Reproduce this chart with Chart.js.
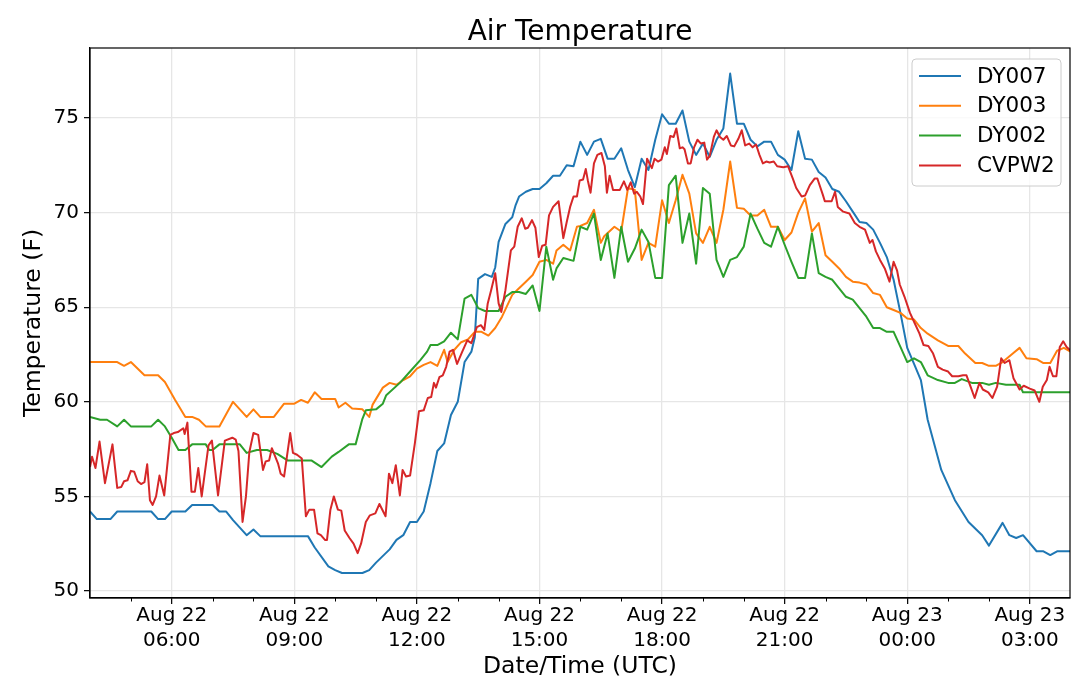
<!DOCTYPE html>
<html>
<head>
<meta charset="utf-8">
<title>Air Temperature</title>
<script src="https://cdn.jsdelivr.net/npm/chart.js@4.4.1/dist/chart.umd.min.js"></script>
<style>
  html, body { margin: 0; padding: 0; background: #fff; }
  #wrap { width: 1079px; height: 693px; position: relative; }
</style>
</head>
<body>
<div id="wrap"><canvas id="chart"></canvas></div>
<script>
// --- DATA ---
// times are minutes after Aug 22 00:00 UTC, temperatures in F

const dy007Times = [240,250,270,280,330,340,350,360,380,390,420,430,440,450,470,480,490,560,570,590,
  600,610,640,650,660,680,690,700,710,720,730,740,750,760,770,780,790,800,805,810,
  820,830,835,840,850,860,865,870,880,890,900,910,920,930,940,950,960,970,980,990,
  1000,1010,1020,1030,1040,1050,1060,1070,1080,1090,1100,1110,1120,1130,1140,1150,1160,1170,1180,1190,
  1200,1210,1220,1230,1240,1250,1260,1270,1280,1290,1300,1310,1320,1330,1340,1350,1360,1370,1380,1390,
  1400,1410,1420,1430,1440,1450,1460,1470,1490,1510,1530,1550,1560,1580,1590,1600,1610,1630,1640,1650,
  1660,1680];
const dy007Temps = [54.2,53.8,53.8,54.2,54.2,53.8,53.8,54.2,54.2,54.55,54.55,54.2,54.2,53.75,52.95,53.25,52.9,52.9,52.3,51.3,
  51.1,50.95,50.95,51.1,51.5,52.2,52.7,52.95,53.65,53.65,54.2,55.7,57.4,57.8,59.3,60.0,62.1,62.65,63.4,66.5,
  66.75,66.6,67.1,68.45,69.4,69.75,70.4,70.85,71.1,71.25,71.25,71.55,71.95,71.95,72.5,72.45,73.75,73.05,73.75,73.9,
  72.85,72.85,73.4,72.25,71.35,72.85,72.25,73.85,75.2,74.7,74.7,75.4,73.75,73.05,73.65,72.95,73.85,74.45,77.35,74.7,
  74.7,73.85,73.5,73.75,73.75,73.05,72.8,72.25,74.3,72.85,72.8,72.15,71.85,71.25,71.1,70.6,70.05,69.5,69.45,69.1,
  68.4,67.65,66.45,64.7,62.85,62.0,61.15,59.05,56.4,54.8,53.65,52.95,52.4,53.6,52.95,52.8,52.95,52.1,52.1,51.9,
  52.1,52.1];

const dy003Times = [240,280,290,300,320,340,350,365,380,390,400,410,430,450,460,470,480,490,510,525,
  540,550,560,570,580,600,605,615,625,640,650,655,670,680,690,700,710,720,730,740,
  750,760,765,775,785,795,805,815,825,835,845,860,870,880,890,900,910,920,925,935,
  945,955,960,970,980,990,995,1010,1020,1030,1040,1050,1060,1070,1080,1090,1100,1110,1120,1130,
  1140,1150,1160,1170,1180,1190,1200,1210,1220,1230,1240,1250,1260,1270,1280,1290,1300,1310,1320,1330,
  1340,1350,1360,1370,1380,1390,1400,1410,1420,1430,1440,1450,1460,1470,1485,1500,1515,1525,1540,1550,
  1560,1570,1580,1595,1605,1615,1630,1640,1650,1660,1670,1680];
const dy003Temps = [62.1,62.1,61.9,62.1,61.4,61.4,61.05,60.1,59.2,59.2,59.05,58.7,58.7,60.0,59.6,59.2,59.6,59.2,59.2,59.9,
  59.9,60.1,59.95,60.5,60.15,60.15,59.7,59.95,59.65,59.6,59.2,59.85,60.75,61.0,60.9,61.15,61.35,61.75,61.95,62.1,
  61.9,62.75,62.1,62.75,63.15,63.3,63.7,63.7,63.5,63.9,64.5,65.65,66.0,66.35,66.7,67.4,67.5,67.3,68.0,68.3,
  68.0,69.25,69.3,69.45,70.15,68.4,68.75,69.25,69.0,71.3,71.2,67.5,68.4,68.2,70.65,69.45,70.65,72.0,71.0,68.9,
  68.4,69.25,68.4,70.15,72.7,70.25,70.2,69.85,69.85,70.15,69.25,69.25,68.55,68.95,70.0,70.75,69.0,69.45,67.75,67.4,
  67.05,66.6,66.35,66.3,66.2,65.75,65.65,65.0,64.85,64.7,64.4,64.35,63.9,63.6,63.25,62.95,62.95,62.55,62.05,62.05,
  61.9,61.9,62.1,62.55,62.85,62.3,62.25,62.05,62.05,62.7,62.85,62.65];

const dy002Times = [240,255,265,280,290,300,330,340,350,360,370,380,390,410,415,420,430,460,470,485,
  500,515,530,565,580,595,605,620,630,640,645,660,670,675,695,710,725,735,740,750,
  760,770,780,790,800,810,820,840,850,860,870,880,890,900,910,920,925,935,950,960,
  970,980,990,1000,1010,1020,1030,1040,1050,1060,1070,1080,1090,1100,1110,1120,1130,1140,1150,1160,
  1170,1180,1190,1200,1210,1220,1230,1240,1250,1260,1270,1280,1290,1300,1310,1320,1330,1340,1350,1360,
  1370,1380,1390,1400,1410,1420,1430,1440,1450,1460,1470,1485,1500,1510,1520,1535,1550,1560,1570,1585,
  1605,1610,1680];
const dy002Temps = [59.2,59.05,59.05,58.7,59.05,58.7,58.7,59.05,58.7,58.1,57.45,57.45,57.75,57.75,57.45,57.45,57.75,57.75,57.3,57.45,
  57.45,57.25,56.9,56.9,56.55,57.1,57.35,57.75,57.75,59.1,59.55,59.6,59.9,60.35,61.0,61.6,62.2,62.65,63.0,63.0,
  63.2,63.65,63.3,65.45,65.65,64.95,64.8,64.8,65.55,65.8,65.8,65.7,66.15,64.8,68.2,66.45,67.05,67.6,67.45,69.25,
  69.1,69.95,67.5,68.9,66.55,69.25,67.4,68.1,69.1,68.45,66.55,66.55,71.45,71.95,68.4,69.95,67.3,71.3,71.0,67.5,
  66.6,67.5,67.65,68.2,69.95,69.15,68.4,68.2,69.25,68.3,67.4,66.55,66.55,68.9,66.8,66.6,66.45,66.0,65.55,65.4,
  64.95,64.5,63.9,63.9,63.7,63.7,62.9,62.1,62.3,62.1,61.4,61.15,61.0,61.0,61.2,61.0,61.0,60.9,61.0,60.9,
  60.9,60.5,60.5];

const cvpw2Times = [240,243,248,254,262,273,280,286,290,295,
  300,305,310,315,320,324,328,332,337,342,
  349,358,363,369,377,379,383,389,394,399,
  404,414,419,428,438,449,454,458,464,469,
  474,480,487,494,498,503,507,512,516,520,
  525,534,538,544,551,557,562,569,574,579,
  585,588,593,598,604,609,614,621,627,633,
  638,645,651,659,665,674,679,684,689,695,
  699,704,710,717,723,730,736,741,745,748,
  753,758,763,768,773,779,786,794,800,808,
  814,819,824,829,835,840,844,850,858,863,
  868,874,879,883,889,894,899,904,909,914,
  920,928,935,940,945,950,955,959,964,968,
  971,975,980,985,991,996,999,1003,1008,1018,
  1024,1029,1034,1039,1043,1048,1052,1058,1065,1069,
  1074,1079,1084,1087,1092,1097,1101,1106,1110,1113,
  1118,1122,1127,1132,1137,1142,1146,1150,1156,1160,
  1165,1170,1175,1181,1186,1192,1197,1202,1208,1213,
  1218,1223,1228,1233,1238,1244,1249,1258,1265,1272,
  1277,1285,1290,1297,1304,1308,1316,1319,1329,1334,
  1338,1346,1355,1363,1370,1378,1385,1389,1394,1400,
  1407,1414,1420,1425,1429,1436,1444,1451,1458,1464,
  1471,1478,1485,1492,1500,1506,1515,1522,1527,1533,
  1539,1546,1551,1559,1565,1572,1578,1583,1590,1596,
  1605,1611,1620,1627,1634,1639,1645,1649,1654,1659,
  1664,1669,1674,1680];
const cvpw2Temps = [56.55,57.1,56.5,57.9,55.7,57.75,55.45,55.5,55.8,55.85,
  56.35,56.3,55.8,55.65,55.75,56.7,54.8,54.55,55.0,56.1,
  55.05,58.25,58.35,58.4,58.6,58.3,58.9,55.25,55.25,56.5,
  55.0,57.7,57.95,55.05,57.95,58.1,58.0,57.4,53.65,55.0,
  57.35,58.35,58.25,56.4,56.85,56.9,57.55,57.1,56.75,56.2,
  56.05,58.35,57.3,57.2,57.0,53.95,54.3,54.3,53.05,52.95,
  52.7,52.7,54.3,55.0,54.3,54.25,53.2,52.8,52.5,52.0,
  52.5,53.65,54.0,54.1,54.6,53.95,56.2,55.7,56.65,55.05,
  56.4,56.05,56.1,57.8,59.5,59.55,60.2,60.25,61.0,60.75,
  61.3,61.4,61.85,62.65,62.75,62.0,62.6,63.25,63.1,63.95,
  64.05,63.8,65.2,65.9,66.8,65.2,64.75,65.9,68.0,68.2,
  69.25,69.7,69.15,69.2,69.6,69.2,67.65,68.25,68.3,69.85,
  70.3,70.6,68.65,69.5,70.3,70.85,70.85,71.7,71.75,72.3,
  71.7,71.05,72.6,73.05,73.15,72.45,71.05,71.95,71.2,71.2,
  71.65,71.2,71.6,71.0,71.1,70.85,70.45,72.85,72.35,72.85,
  72.7,72.8,73.45,73.1,74.05,74.0,74.45,73.4,73.45,73.35,
  72.6,72.6,73.45,73.85,73.65,73.7,72.8,73.0,74.0,74.35,
  74.0,73.85,74.05,73.55,73.5,73.9,74.35,73.55,73.65,73.45,
  73.6,73.05,72.6,72.7,72.65,72.7,72.45,72.4,72.45,71.8,
  71.3,70.85,70.9,71.45,71.8,71.8,70.95,70.6,70.6,71.1,
  70.3,70.05,69.95,69.45,69.25,69.1,68.4,68.55,67.95,67.5,
  67.05,66.35,67.4,66.95,66.2,65.55,64.7,64.15,63.6,63.0,
  62.95,62.55,61.85,61.7,61.6,61.35,61.35,61.4,61.4,60.8,
  60.2,61.0,60.65,60.5,60.2,60.8,62.3,62.05,62.2,61.25,
  60.65,60.85,60.7,60.6,60.0,60.8,61.15,61.85,61.35,61.35,
  62.9,63.2,62.9,62.7];

// axis ticks
const tickTimes = [360, 540, 720, 900, 1080, 1260, 1440, 1620];
const tickLabels = [['Aug 22','06:00'], ['Aug 22','09:00'], ['Aug 22','12:00'], ['Aug 22','15:00'],
  ['Aug 22','18:00'], ['Aug 22','21:00'], ['Aug 23','00:00'], ['Aug 23','03:00']];
const yTicks = [50, 55, 60, 65, 70, 75];

// --- CHART ---
const FONT = 'DejaVu Sans';

function toPoints(times, temps) {
    return times.map((t, i) => ({ x: t, y: temps[i] }));
}

function serie(label, times, temps, color, order) {
    return {
        label: label,
        data: toPoints(times, temps),
        borderColor: color,
        backgroundColor: color,
        borderWidth: 2,
        pointRadius: 0,
        tension: 0,
        borderJoinStyle: 'round',
        order: order
    };
}

// frame, hourly minor ticks and legend box (matplotlib look)
const frameLegend = {
    id: 'frameLegend',
    afterDraw(chart) {
        const { ctx, chartArea: a } = chart;
        const xs = chart.scales.x;
        ctx.save();

        ctx.strokeStyle = '#000';
        ctx.lineWidth = 1;
        for (let m = 300; m < 1680; m += 60) {
            if (tickTimes.includes(m)) continue;
            const px = Math.round(xs.getPixelForValue(m)) + 0.5;
            ctx.beginPath();
            ctx.moveTo(px, a.bottom);
            ctx.lineTo(px, a.bottom + 3.5);
            ctx.stroke();
        }

        ctx.lineWidth = 1.2;
        ctx.strokeRect(a.left, a.top, a.right - a.left, a.bottom - a.top);

        const lx = a.right - 158, ly = a.top + 11, lw = 149, lh = 127;
        ctx.beginPath();
        ctx.roundRect(lx, ly, lw, lh, 4);
        ctx.fillStyle = 'rgba(255,255,255,0.8)';
        ctx.fill();
        ctx.strokeStyle = '#cccccc';
        ctx.lineWidth = 1;
        ctx.stroke();

        ctx.font = '21.5px "' + FONT + '"';
        ctx.textBaseline = 'middle';
        ctx.textAlign = 'left';
        chart.data.datasets.forEach((ds, i) => {
            const y = ly + 17 + i * 29.8;
            ctx.strokeStyle = ds.borderColor;
            ctx.lineWidth = 2;
            ctx.beginPath();
            ctx.moveTo(lx + 7, y);
            ctx.lineTo(lx + 49, y);
            ctx.stroke();
            ctx.fillStyle = '#000';
            ctx.fillText(ds.label, lx + 65, y + 1);
        });
        ctx.restore();
    }
};

new Chart(document.getElementById('chart'), {
    type: 'line',
    data: {
        datasets: [
            serie('DY007', dy007Times, dy007Temps, '#1f77b4', 4),
            serie('DY003', dy003Times, dy003Temps, '#ff7f0e', 3),
            serie('DY002', dy002Times, dy002Temps, '#2ca02c', 2),
            serie('CVPW2', cvpw2Times, cvpw2Temps, '#d62728', 1)
        ]
    },
    options: {
        responsive: true,
        maintainAspectRatio: false,
        animation: false,
        layout: { padding: { left: 0, right: 9, top: 0, bottom: 0 } },
        plugins: {
            legend: { display: false },
            tooltip: { enabled: false },
            title: {
                display: true,
                fullSize: false,
                text: 'Air Temperature',
                color: '#000',
                font: { family: FONT, size: 28, weight: 'normal', lineHeight: 1.2 },
                padding: { top: 16.4, bottom: -2 }
            }
        },
        scales: {
            x: {
                type: 'linear',
                min: 240,
                max: 1679,
                afterBuildTicks: s => { s.ticks = tickTimes.map(v => ({ value: v })); },
                afterFit: s => { s.height = 95; },
                ticks: {
                    autoSkip: false,
                    maxRotation: 0,
                    color: '#000',
                    padding: -1,
                    font: { family: FONT, size: 20, lineHeight: 1.25 },
                    callback: v => tickLabels[tickTimes.indexOf(v)]
                },
                grid: { color: '#e6e6e6', lineWidth: 1.3, tickColor: '#000', tickLength: 6, tickWidth: 1.2 },
                border: { color: '#000', width: 1.2 },
                title: {
                    display: true,
                    text: 'Date/Time (UTC)',
                    color: '#000',
                    font: { family: FONT, size: 23.5, lineHeight: 1.2 },
                    padding: { top: 0, bottom: 12 }
                }
            },
            y: {
                min: 49.63,
                max: 78.7,
                afterBuildTicks: s => { s.ticks = yTicks.map(v => ({ value: v })); },
                afterFit: s => { s.width = 90; },
                ticks: {
                    color: '#000',
                    padding: 5,
                    font: { family: FONT, size: 20 }
                },
                grid: { color: '#e6e6e6', lineWidth: 1.3, tickColor: '#000', tickLength: 6, tickWidth: 1.2 },
                border: { color: '#000', width: 1.2 },
                title: {
                    display: true,
                    text: 'Temperature (F)',
                    color: '#000',
                    font: { family: FONT, size: 23.5, lineHeight: 1.2 },
                    padding: { top: 20, bottom: 0 }
                }
            }
        }
    },
    plugins: [frameLegend]
});
</script>
</body>
</html>
